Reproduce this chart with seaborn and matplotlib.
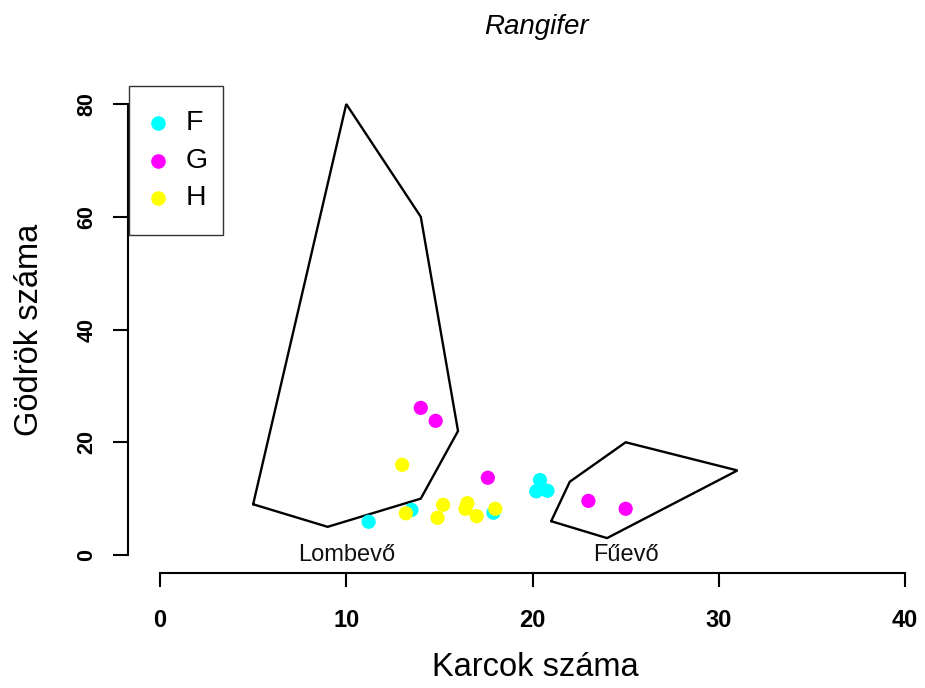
import matplotlib
matplotlib.use("Agg")
import matplotlib.pyplot as plt
from matplotlib.patches import Rectangle
import seaborn as sns
import pandas as pd

# Scratch (Karcok) and pit (Gödrök) counts per group
f_x = [11.2, 13.5, 17.9, 20.4, 20.2, 20.8]
f_y = [5.9, 8.0, 7.5, 13.3, 11.3, 11.4]
g_x = [14.0, 14.8, 17.6, 23.0, 25.0]
g_y = [26.1, 23.8, 13.7, 9.6, 8.2]
h_x = [13.0, 13.2, 15.2, 14.9, 16.5, 16.4, 17.0, 18.0]
h_y = [16.0, 7.4, 8.9, 6.6, 9.2, 8.2, 6.9, 8.2]
groups = ["F", "G", "H"]
colors = ["#00FFFF", "#FF00FF", "#FFFF00"]

# Reference polygons for browsers and grazers
browser_x = [5, 10, 14, 16, 14, 9]
browser_y = [9, 80, 60, 22, 10, 5]
grazer_x = [21, 22, 25, 31, 24]
grazer_y = [6, 13, 20, 15, 3]
region_labels = ["Lombevő", "Fűevő"]
region_label_x = [10, 25]
region_label_y = [0, 0]

x_ticks = [0, 10, 20, 30, 40]
y_ticks = [0, 20, 40, 60, 80]

df = pd.concat([
    pd.DataFrame({"x": f_x, "y": f_y, "grp": "F"}),
    pd.DataFrame({"x": g_x, "y": g_y, "grp": "G"}),
    pd.DataFrame({"x": h_x, "y": h_y, "grp": "H"}),
], ignore_index=True)

sns.set_style("white")
plt.rcParams["font.family"] = ["Liberation Sans", "DejaVu Sans"]
plt.rcParams.update({"text.color": "black", "axes.labelcolor": "black",
                     "xtick.color": "black", "ytick.color": "black"})

W, H = 925, 688
fig = plt.figure(figsize=(W / 100, H / 100), dpi=100)


def fx(px):
    return px / W


def fy(py):
    return 1 - py / H


# plot region in pixels: left 128, right 952, top 86, bottom 573
ax = fig.add_axes([fx(128), fy(573), (952 - 128) / W, (573 - 86) / H])
ax.set_xlim(-1.718, 42.52)
ax.set_ylim(-3.19, 83.2)


def closed(xs, ys):
    return xs + xs[:1], ys + ys[:1]


bx, by = closed(browser_x, browser_y)
gx, gy = closed(grazer_x, grazer_y)
ax.plot(bx, by, color="black", lw=1.7, solid_joinstyle="miter", zorder=1)
ax.plot(gx, gy, color="black", lw=1.7, solid_joinstyle="miter", zorder=1)

sns.scatterplot(data=df, x="x", y="y", hue="grp", palette=dict(zip(groups, colors)),
                s=105, linewidth=0, ax=ax, legend=False, zorder=3)

for lab, lx, ly in zip(region_labels, region_label_x, region_label_y):
    ax.text(lx, ly, lab, ha="center", va="center", fontsize=17, color="#111111")

# R-style detached axes
for side in ["top", "right"]:
    ax.spines[side].set_visible(False)
ax.spines["left"].set_bounds(0, 80)
ax.spines["bottom"].set_bounds(0, 40)
for side in ["left", "bottom"]:
    ax.spines[side].set_linewidth(1.5)
    ax.spines[side].set_color("black")
ax.set_xticks(x_ticks)
ax.set_yticks(y_ticks)
ax.tick_params(axis="x", bottom=True, direction="out", length=10, width=1.5,
               pad=16, labelsize=17, colors="black")
ax.tick_params(axis="y", left=True, direction="out", length=11, width=1.5,
               pad=11, labelsize=15.5, colors="black", labelrotation=90)
for lab in ax.get_xticklabels():
    lab.set_fontweight("bold")
for lab in ax.get_yticklabels():
    lab.set_fontweight("bold")
    lab.set_va("center")
ax.set_xlabel("")
ax.set_ylabel("")

fig.text(fx(535), fy(668), "Karcok száma", ha="center", va="center", fontsize=23.5)
fig.text(fx(30), fy(330), "Gödrök száma", ha="center", va="center",
         rotation=90, fontsize=23.5)
fig.text(fx(536), fy(27), "Rangifer", ha="center", va="center",
         fontsize=20, style="italic")

# legend box in the top-left corner of the plot region
fig.patches.append(Rectangle((fx(129), fy(235)), (223 - 129) / W, (235 - 86) / H,
                             transform=fig.transFigure, facecolor="white",
                             edgecolor="#333333", linewidth=1.0, zorder=5))
legend_rows = [123, 161, 198]
for grp, col, row in zip(groups, colors, legend_rows):
    fig.lines.append(plt.Line2D([fx(158)], [fy(row)], transform=fig.transFigure,
                                marker="o", linestyle="", markersize=10.5,
                                markerfacecolor=col, markeredgewidth=0, zorder=6))
    fig.text(fx(186), fy(row), grp, ha="left", va="center", fontsize=20.5, zorder=6)

fig.savefig("out.png", dpi=100)
